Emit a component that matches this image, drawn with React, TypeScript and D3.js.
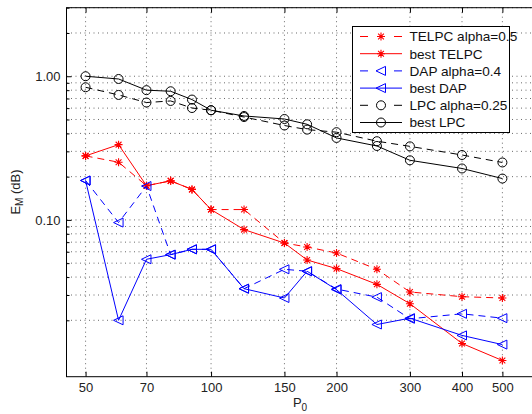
import React, { useEffect, useRef } from 'react';
import * as d3 from 'd3';

// P0 values along the x axis
const P0 = [50, 60, 70, 80, 90, 100, 120, 150, 170, 200, 250, 300, 400, 500];

// E_M values
const telpcAlpha = [0.279, 0.252, 0.173, 0.187, 0.163, 0.118, 0.118, 0.069, 0.0648, 0.0588, 0.0453, 0.0315, 0.0292, 0.0286];
const telpcBest = [0.279, 0.334, 0.173, 0.187, 0.163, 0.118, 0.0856, 0.069, 0.0526, 0.0458, 0.0356, 0.0261, 0.0138, 0.0105];
const dapAlpha = [0.188, 0.0958, 0.172, 0.0573, 0.0624, 0.0624, 0.0332, 0.0453, 0.0439, 0.033, 0.029, 0.0205, 0.0222, 0.0207];
const dapBest = [0.188, 0.02, 0.0532, 0.0573, 0.0624, 0.0624, 0.0332, 0.0286, 0.0439, 0.0327, 0.0187, 0.0207, 0.0157, 0.01355];
const lpcAlpha = [0.838, 0.741, 0.656, 0.673, 0.601, 0.58, 0.52, 0.454, 0.425, 0.408, 0.353, 0.325, 0.283, 0.251];
const lpcBest = [1.0, 0.957, 0.8, 0.786, 0.688, 0.58, 0.529, 0.504, 0.463, 0.372, 0.327, 0.26, 0.228, 0.194];

const xTicks = [50, 70, 100, 150, 200, 300, 400, 500];
const yTicks = [0.1, 1];
const yTickLabels = ['0.10', '1.00'];
const legendLabels = ['TELPC alpha=0.5', 'best TELPC', 'DAP alpha=0.4', 'best DAP', 'LPC alpha=0.25', 'best LPC'];

const series = [
  { values: telpcAlpha, color: '#ff0000', dashed: true, marker: 'star' },
  { values: telpcBest, color: '#ff0000', dashed: false, marker: 'star' },
  { values: dapAlpha, color: '#0000ff', dashed: true, marker: 'tri' },
  { values: dapBest, color: '#0000ff', dashed: false, marker: 'tri' },
  { values: lpcAlpha, color: '#000000', dashed: true, marker: 'circle' },
  { values: lpcBest, color: '#000000', dashed: false, marker: 'circle' },
];

const W = 532;
const H = 414;
const FONT = 'Liberation Sans, Arial, Helvetica, sans-serif';

function drawMarker(g: any, type: string, color: string) {
  if (type === 'circle') {
    g.append('circle').attr('r', 4.5).attr('fill', 'none').attr('stroke', color).attr('stroke-width', 1);
  } else if (type === 'tri') {
    g.append('path').attr('d', 'M-5,0L4.5,-4.5L4.5,4.5Z').attr('fill', 'none').attr('stroke', color).attr('stroke-width', 1);
  } else {
    g.append('path')
      .attr('d', 'M-4,0H4M0,-4V4M-2.9,-2.9L2.9,2.9M-2.9,2.9L2.9,-2.9')
      .attr('fill', 'none').attr('stroke', color).attr('stroke-width', 1.1);
  }
}

export default function App() {
  const svgRef = useRef<SVGSVGElement>(null);

  useEffect(() => {
    if (!svgRef.current) return;
    const svg = d3.select(svgRef.current);
    svg.selectAll('*').remove();

    const left = 66.5, right = 535.4, top = 7.7, bottom = 376.7;
    const x = d3.scaleLog().domain([45, 600]).range([left, right]);
    const y = d3.scaleLog().domain([0.0081, 3]).range([bottom, top]);

    svg.append('rect').attr('width', W).attr('height', H).attr('fill', '#fff');

    // dotted grid
    const minorY = [0.01, 0.1, 1]
      .flatMap(d => d3.range(2, 10).map(k => k * d))
      .filter(v => v >= 0.0081 && v <= 3);
    const grid = svg.append('g')
      .attr('stroke', '#444')
      .attr('stroke-width', 0.8)
      .attr('stroke-dasharray', '1,3.5');
    grid.selectAll('.gx').data(xTicks).enter().append('line')
      .attr('x1', d => x(d)).attr('x2', d => x(d))
      .attr('y1', top).attr('y2', bottom);
    grid.selectAll('.gy').data([...minorY, ...yTicks]).enter().append('line')
      .attr('x1', left).attr('x2', right)
      .attr('y1', d => y(d)).attr('y2', d => y(d));

    // axes (ticks point inward)
    const styleAxis = (g: any) => {
      g.select('.domain').remove();
      g.selectAll('line').attr('stroke', '#000');
      g.attr('font-size', 13).attr('font-family', FONT);
      g.selectAll('text').attr('fill', '#222');
    };

    svg.append('g')
      .attr('transform', `translate(${left},0)`)
      .call(d3.axisLeft(y).tickValues(yTicks).tickFormat((_, i) => yTickLabels[i]).tickSize(-5).tickSizeOuter(0).tickPadding(6))
      .call(styleAxis);
    svg.append('g')
      .attr('transform', `translate(${left},0)`)
      .call(d3.axisLeft(y).tickValues(minorY).tickFormat(() => '').tickSize(-3).tickSizeOuter(0))
      .call(styleAxis);
    svg.append('g')
      .attr('transform', `translate(0,${bottom})`)
      .call(d3.axisBottom(x).tickValues(xTicks).tickFormat(d3.format('d')).tickSize(-5).tickSizeOuter(0).tickPadding(6))
      .call(styleAxis);
    svg.append('g')
      .attr('transform', `translate(0,${top})`)
      .call(d3.axisTop(x).tickValues(xTicks).tickFormat(() => '').tickSize(-5).tickSizeOuter(0))
      .call(styleAxis);

    // data
    svg.append('clipPath').attr('id', 'plot-clip')
      .append('rect').attr('x', left).attr('y', top).attr('width', right - left).attr('height', bottom - top);

    const line = d3.line<number>()
      .x((_, i) => x(P0[i]))
      .y(d => y(d));

    series.forEach(s => {
      svg.append('path')
        .datum(s.values)
        .attr('clip-path', 'url(#plot-clip)')
        .attr('fill', 'none')
        .attr('stroke', s.color)
        .attr('stroke-width', 1)
        .attr('stroke-dasharray', s.dashed ? '7,5' : null)
        .attr('d', line);
      s.values.forEach((v, i) => {
        const m = svg.append('g').attr('transform', `translate(${x(P0[i])},${y(v)})`);
        drawMarker(m, s.marker, s.color);
      });
    });

    // frame
    svg.append('rect')
      .attr('x', left).attr('y', top)
      .attr('width', right - left).attr('height', bottom - top)
      .attr('fill', 'none').attr('stroke', '#000').attr('stroke-width', 1);

    // axis labels
    const xl = svg.append('text')
      .attr('x', 300).attr('y', 407)
      .attr('text-anchor', 'middle')
      .attr('font-size', 13).attr('font-family', FONT).attr('fill', '#222');
    xl.append('tspan').text('P');
    xl.append('tspan').attr('font-size', 10).attr('dy', 4).text('0');

    const yl = svg.append('text')
      .attr('transform', 'translate(20,192) rotate(-90)')
      .attr('text-anchor', 'middle')
      .attr('font-size', 13).attr('font-family', FONT).attr('fill', '#222');
    yl.append('tspan').text('E');
    yl.append('tspan').attr('font-size', 10).attr('dy', 3).text('M');
    yl.append('tspan').attr('dy', -3).text(' (dB)');

    // legend
    const lg = svg.append('g');
    lg.append('rect')
      .attr('x', 352.5).attr('y', 26.5)
      .attr('width', 157).attr('height', 106)
      .attr('fill', '#fff').attr('stroke', '#000').attr('stroke-width', 1);
    series.forEach((s, i) => {
      const ly = 36.5 + i * 17.2;
      lg.append('line')
        .attr('x1', 360).attr('x2', 402)
        .attr('y1', ly).attr('y2', ly)
        .attr('stroke', s.color).attr('stroke-width', 1)
        .attr('stroke-dasharray', s.dashed ? '8,26' : null);
      const m = lg.append('g').attr('transform', `translate(381,${ly})`);
      drawMarker(m, s.marker, s.color);
      lg.append('text')
        .attr('x', 409.5).attr('y', ly).attr('dy', '0.36em')
        .attr('font-size', 13.6).attr('font-family', FONT).attr('fill', '#111')
        .text(legendLabels[i]);
    });
  }, []);

  return (
    <div style={{ position: 'absolute', left: 0, top: 0 }}>
      <svg ref={svgRef} width={W} height={H} style={{ display: 'block' }} />
    </div>
  );
}
